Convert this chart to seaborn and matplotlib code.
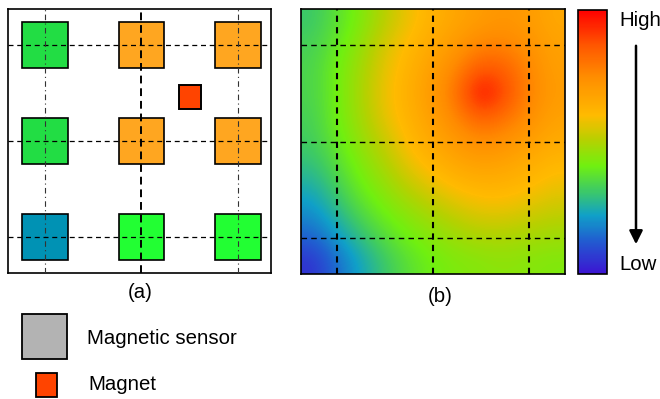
import numpy as np
import matplotlib
matplotlib.use('Agg')
import matplotlib.pyplot as plt
import seaborn as sns
from matplotlib.patches import Rectangle
from matplotlib.colors import LinearSegmentedColormap

sns.set_theme(style='white')
plt.rcParams['font.family'] = ['Liberation Sans', 'DejaVu Sans']
plt.rcParams['text.color'] = 'black'

# sensor grid (columns / rows) and the colour each sensor shows
grid_pos = [0, 1, 2]
sensor_colors = [
    ['#22dd44', '#ffa620', '#ffa620'],
    ['#22dd44', '#ffa620', '#ffa620'],
    ['#0092b4', '#22ff33', '#22ff33'],
]
magnet_xy = (1.5, 0.54)

# interpolated field (b), rows top -> bottom, cells of 0.25 from -0.25 to 2.25
field_values = [
    [0.31, 0.37, 0.43, 0.51, 0.58, 0.63, 0.67, 0.70, 0.72, 0.70, 0.66],
    [0.33, 0.39, 0.46, 0.55, 0.61, 0.66, 0.71, 0.77, 0.77, 0.73, 0.68],
    [0.34, 0.41, 0.48, 0.57, 0.63, 0.69, 0.77, 0.87, 0.85, 0.76, 0.69],
    [0.34, 0.41, 0.49, 0.58, 0.64, 0.71, 0.81, 1.00, 0.89, 0.77, 0.70],
    [0.33, 0.41, 0.48, 0.57, 0.63, 0.69, 0.77, 0.85, 0.81, 0.74, 0.68],
    [0.32, 0.39, 0.46, 0.53, 0.61, 0.66, 0.71, 0.75, 0.73, 0.69, 0.65],
    [0.29, 0.36, 0.43, 0.49, 0.57, 0.62, 0.66, 0.68, 0.67, 0.64, 0.61],
    [0.24, 0.32, 0.40, 0.45, 0.51, 0.56, 0.60, 0.62, 0.62, 0.60, 0.57],
    [0.19, 0.27, 0.35, 0.41, 0.45, 0.49, 0.53, 0.56, 0.56, 0.54, 0.52],
    [0.13, 0.21, 0.29, 0.36, 0.41, 0.44, 0.47, 0.49, 0.49, 0.48, 0.47],
    [0.05, 0.15, 0.23, 0.31, 0.37, 0.41, 0.43, 0.44, 0.45, 0.44, 0.43],
]

cmap_stops = [0.0, 0.13, 0.22, 0.32, 0.41, 0.51, 0.60, 0.75, 0.87, 1.0]
cmap_colors = ['#3c14d2', '#2060d0', '#10a0c8', '#40cc60', '#70f010',
               '#b8d000', '#ffbb00', '#ff8c00', '#ff5500', '#ff0000']
field_cmap = LinearSegmentedColormap.from_list('field', list(zip(cmap_stops, cmap_colors)))

W, H = 660, 399
fig = plt.figure(figsize=(6.6, 3.99), dpi=100)


def px_axes(x0, y0, x1, y1):
    return fig.add_axes([x0 / W, 1 - y1 / H, (x1 - x0) / W, (y1 - y0) / H])


# ---- (a) sensors + magnet
ax_a = px_axes(8, 9, 271, 273)
ax_a.set_xlim(-0.383, 2.342)
ax_a.set_ylim(2.375, -0.375)
side = 0.47
for r, row in zip(grid_pos, sensor_colors):
    for c, col in zip(grid_pos, row):
        ax_a.add_patch(Rectangle((c - side / 2, r - side / 2), side, side,
                                 facecolor=col, edgecolor='black', lw=1.2, zorder=2))
ax_a.add_patch(Rectangle((magnet_xy[0] - 0.115, magnet_xy[1] - 0.125), 0.23, 0.25,
                         facecolor='#ff4400', edgecolor='black', lw=1.4, zorder=2))
for p in grid_pos:
    ax_a.axhline(p, color='black', lw=0.9, ls=(0, (4, 3)), zorder=3)
    if p == 1:
        ax_a.axvline(p, color='black', lw=1.4, ls=(0, (4, 2.5)), zorder=3)
    else:
        ax_a.axvline(p, color='#333333', lw=0.8, ls=(0, (5, 3, 1, 3)), zorder=3)
ax_a.set_xticks([])
ax_a.set_yticks([])
for s in ax_a.spines.values():
    s.set_color('black')
    s.set_linewidth(1.2)

# ---- (b) field map
ax_b = px_axes(301, 9, 565, 274)
im = ax_b.imshow(np.array(field_values), cmap=field_cmap, vmin=0, vmax=1,
                 extent=(-0.375, 2.375, 2.375, -0.375), interpolation='bicubic',
                 aspect='auto')
ax_b.set_xlim(-0.375, 2.375)
ax_b.set_ylim(2.375, -0.375)
for p in grid_pos:
    ax_b.axhline(p, color='black', lw=1.0, ls=(0, (4, 3)))
    ax_b.axvline(p, color='black', lw=1.5, ls=(0, (3, 2.5)))
ax_b.set_xticks([])
ax_b.set_yticks([])
for s in ax_b.spines.values():
    s.set_color('black')
    s.set_linewidth(1.2)

cax = px_axes(578, 10, 607, 274)
cb = fig.colorbar(im, cax=cax)
cb.set_ticks([])
cb.outline.set_edgecolor('black')
cb.outline.set_linewidth(1.2)

# ---- overlay for captions, arrow, legend
ov = fig.add_axes([0, 0, 1, 1])
ov.set_xlim(0, W)
ov.set_ylim(H, 0)
ov.axis('off')
ov.patch.set_alpha(0)

fs = 14.7
ov.text(140, 293, '(a)', ha='center', va='center', fontsize=fs)
ov.text(440, 296, '(b)', ha='center', va='center', fontsize=fs)
ov.text(619, 20, 'High', ha='left', va='center', fontsize=fs)
ov.text(619, 265, 'Low', ha='left', va='center', fontsize=fs)
ov.annotate('', xy=(636, 247), xytext=(636, 43),
            arrowprops=dict(arrowstyle='-|>', lw=1.8, color='black', mutation_scale=20))

ov.add_patch(Rectangle((22, 314), 45, 45, facecolor='#b3b3b3', edgecolor='black', lw=1.3))
ov.text(87, 338, 'Magnetic sensor', ha='left', va='center', fontsize=fs)
ov.add_patch(Rectangle((36, 373), 21, 24, facecolor='#ff4400', edgecolor='black', lw=1.3))
ov.text(88, 384, 'Magnet', ha='left', va='center', fontsize=fs)

fig.savefig('out.png', dpi=100)
